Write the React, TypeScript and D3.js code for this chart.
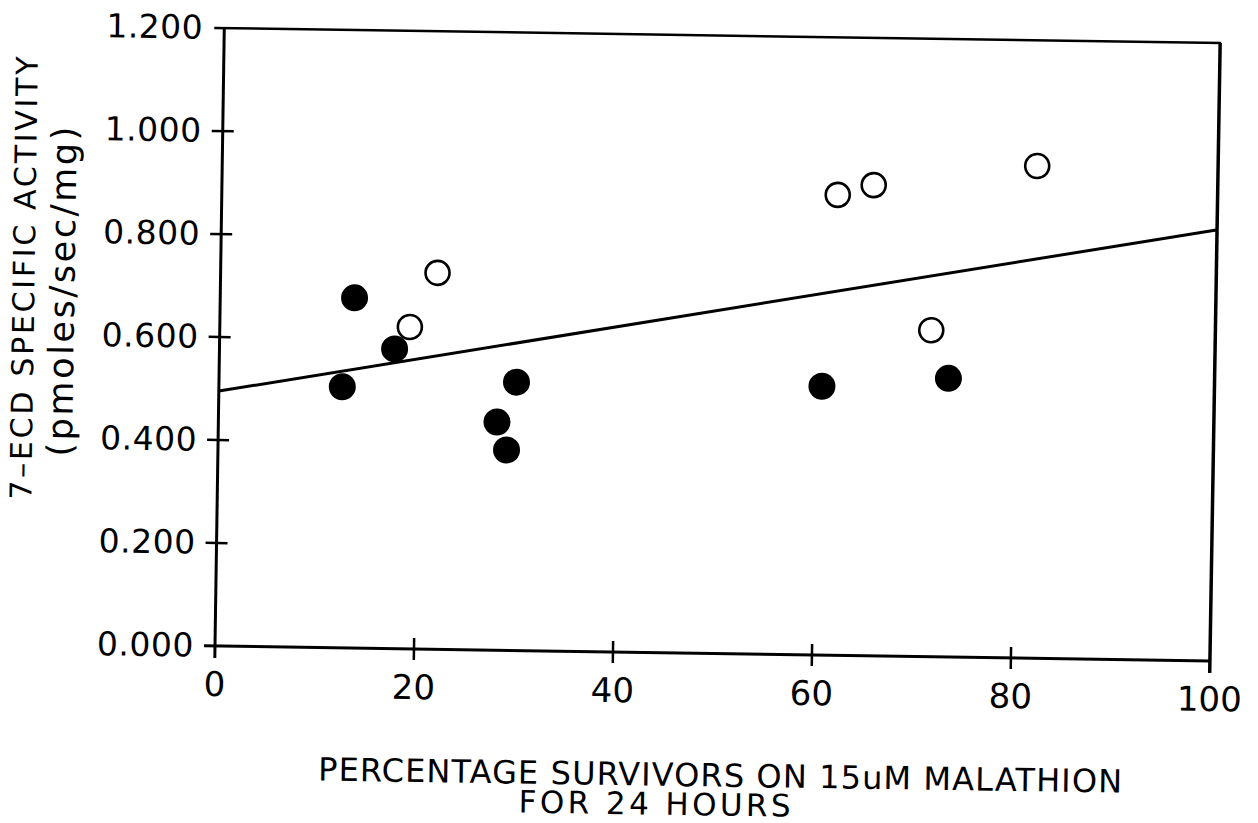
import React from "react";
import * as d3 from "d3";

// Survivors (%) vs 7-ECD specific activity, two groups of strains
const openX = [19.1, 21.8, 61.9, 65.5, 71.5, 81.9];
const openY = [0.625, 0.731, 0.894, 0.914, 0.634, 0.956];
const filledX = [12.4, 13.5, 17.6, 28.0, 29.0, 29.9, 60.6, 73.3];
const filledY = [0.507, 0.68, 0.582, 0.443, 0.389, 0.521, 0.522, 0.541];

// fitted regression line end points
const fitX = [0, 100];
const fitY = [0.495, 0.837];

const xTicks = [0, 20, 40, 60, 80, 100];
const yTicks = [0, 0.2, 0.4, 0.6, 0.8, 1.0, 1.2];

const yTitle1 = "7–ECD SPECIFIC ACTIVITY";
const yTitle2 = "(pmoles/sec/mg)";
const xTitle1 = "PERCENTAGE SURVIVORS ON 15uM MALATHION";
const xTitle2 = "FOR 24 HOURS";

const W = 1258;
const H = 823;
const ORIGIN_X = 215;
const ORIGIN_Y = 646;
const PW = 995;
const PH = 618;
const TILT = 0.86;

const FONT = "'DejaVu Sans', sans-serif";

export default function App() {
  const x = d3.scaleLinear().domain([0, 100]).range([0, PW]);
  const y = d3.scaleLinear().domain([0, 1.2]).range([0, -PH]);
  const fmt = d3.format(".3f");

  const fitLine = d3
    .line<number>()
    .x((_, i) => x(fitX[i]))
    .y((_, i) => y(fitY[i]))(fitX) as string;

  return (
    <svg
      width={W}
      height={H}
      style={{ position: "absolute", left: 0, top: 0, background: "#fff" }}
    >
      <rect x={0} y={0} width={W} height={H} fill="#fff" />
      <g
        transform={`translate(${ORIGIN_X},${ORIGIN_Y}) rotate(${TILT})`}
        fontFamily={FONT}
        fill="#000"
      >
        {/* frame */}
        <line x1={0} y1={12} x2={0} y2={y(1.2)} stroke="#000" strokeWidth={3} />
        <line x1={-11} y1={0} x2={PW} y2={0} stroke="#000" strokeWidth={3} />
        <line x1={-10} y1={y(1.2)} x2={PW + 2} y2={y(1.2)} stroke="#000" strokeWidth={2.5} />
        <line x1={PW + 1} y1={y(1.2)} x2={PW} y2={12} stroke="#000" strokeWidth={3.5} />

        {/* y ticks and labels */}
        {yTicks.map((t) => (
          <g key={`y${t}`}>
            {t > 0 && t < 1.2 && (
              <line x1={-11} y1={y(t)} x2={11} y2={y(t)} stroke="#000" strokeWidth={2.5} />
            )}
            <text
              x={-21}
              y={y(t) + 11}
              textAnchor="end"
              fontSize={33}
              letterSpacing={0.5}
            >
              {fmt(t)}
            </text>
          </g>
        ))}

        {/* x ticks and labels */}
        {xTicks.map((t) => (
          <g key={`x${t}`}>
            {t > 0 && t < 100 && (
              <line x1={x(t)} y1={-11} x2={x(t)} y2={11} stroke="#000" strokeWidth={2.5} />
            )}
            <text x={x(t)} y={50} textAnchor="middle" fontSize={34}>
              {t}
            </text>
          </g>
        ))}

        {/* regression line */}
        <path d={fitLine} fill="none" stroke="#000" strokeWidth={3} />

        {/* filled markers */}
        {filledX.map((v, i) => (
          <circle key={`f${i}`} cx={x(v)} cy={y(filledY[i])} r={13.5} fill="#000" />
        ))}

        {/* open markers */}
        {openX.map((v, i) => (
          <circle
            key={`o${i}`}
            cx={x(v)}
            cy={y(openY[i])}
            r={12}
            fill="#fff"
            stroke="#000"
            strokeWidth={2.6}
          />
        ))}

        {/* axis titles */}
        <text
          transform={`translate(-186,-365) rotate(-90)`}
          textAnchor="middle"
          fontSize={30}
          textLength={443}
          lengthAdjust="spacing"
        >
          {yTitle1}
        </text>
        <text
          transform={`translate(-146,-352) rotate(-90)`}
          textAnchor="middle"
          fontSize={35}
          textLength={330}
          lengthAdjust="spacing"
        >
          {yTitle2}
        </text>
        <text
          x={507}
          y={133}
          textAnchor="middle"
          fontSize={32}
          textLength={804}
          lengthAdjust="spacing"
        >
          {xTitle1}
        </text>
        <text
          x={442}
          y={162}
          textAnchor="middle"
          fontSize={31}
          textLength={272}
          lengthAdjust="spacing"
        >
          {xTitle2}
        </text>
      </g>
    </svg>
  );
}
